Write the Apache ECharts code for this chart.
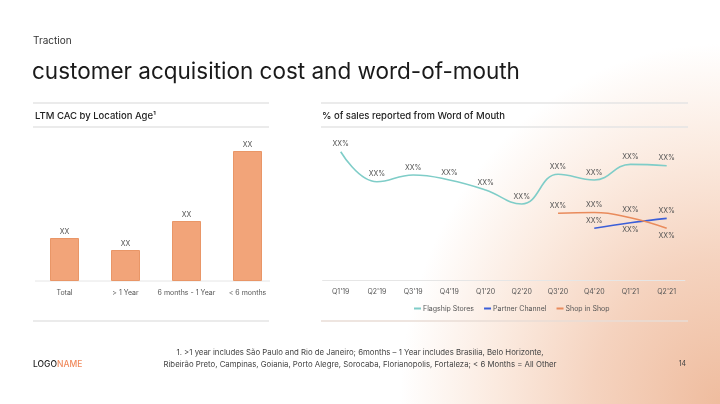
<!DOCTYPE html>
<html>
<head>
<meta charset="utf-8">
<script src="https://cdn.jsdelivr.net/npm/echarts@6/dist/echarts.min.js"></script>
<style>
html,body{margin:0;padding:0;width:720px;height:404px;overflow:hidden;}
body{background: radial-gradient(ellipse 320px 360px at 100% 100%, #efbc9e 0%, #f5d3bf 40%, #fbeadf 70%, #ffffff 100%);}
#chart{width:720px;height:404px;}
</style>
</head>
<body>
<div id="chart"></div>
<script>
// ---- data ----
const barCategories = ['Total', '> 1 Year', '6 months - 1 Year', '< 6 months'];
const barValues = [43, 31, 60, 130];
const barLabels = ['XX', 'XX', 'XX', 'XX'];

const quarters = ["Q1'19","Q2'19","Q3'19","Q4'19","Q1'20","Q2'20","Q3'20","Q4'20","Q1'21","Q2'21"];
const flagshipStores = [85.5, 65.5, 70, 66.7, 60, 50.7, 70.5, 66.7, 77.1, 76.2];
const partnerChannel = [null, null, null, null, null, null, null, 34.5, 38.2, 41.1];
const shopInShop     = [null, null, null, null, null, null, 44.5, 45, 41.5, 34.5];
const pointLabel = 'XX%';

// label placement (style): indices whose label sits below the point
const belowIdx = { partner: [8], shop: [9] };

const FONT = 'Inter, "Noto Sans", sans-serif';

function mkData(arr, below) {
  return arr.map((v, i) => v == null ? null : {
    value: v,
    label: { position: (below || []).indexOf(i) >= 0 ? 'bottom' : 'top' }
  });
}

const chart = echarts.init(document.getElementById('chart'), null, { renderer: 'canvas' });

const lineLabel = {
  show: true, formatter: pointLabel, color: '#555', fontSize: 7, fontFamily: FONT, distance: 4
};

function lineSeries(name, arr, below, color) {
  return {
    name, type: 'line', xAxisIndex: 1, yAxisIndex: 1, data: mkData(arr, below),
    smooth: 0.45, symbol: 'circle', symbolSize: 0.01, showSymbol: true,
    lineStyle: { color, width: 1.6 }, itemStyle: { color }, label: lineLabel
  };
}

const option = {
  backgroundColor: 'transparent',
  animation: false,
  graphic: [
    { type: 'text', x: 33, y: 41, style: { text: 'Traction', fill: '#333', font: '10px ' + FONT, verticalAlign: 'middle' } },
    { type: 'text', x: 32, y: 72, style: { text: 'customer acquisition cost and word-of-mouth', fill: '#1a1a1a', font: '22.5px ' + FONT, verticalAlign: 'middle' } },
    { type: 'line', shape: { x1: 33, y1: 103, x2: 269, y2: 103 }, style: { stroke: '#e4e4e4', lineWidth: 1.5 } },
    { type: 'line', shape: { x1: 33, y1: 127, x2: 269, y2: 127 }, style: { stroke: '#e4e4e4', lineWidth: 1.5 } },
    { type: 'line', shape: { x1: 321, y1: 103, x2: 688, y2: 103 }, style: { stroke: '#e4e4e4', lineWidth: 1.5 } },
    { type: 'line', shape: { x1: 321, y1: 127, x2: 688, y2: 127 }, style: { stroke: '#e4e4e4', lineWidth: 1.5 } },
    { type: 'line', shape: { x1: 33, y1: 321, x2: 269, y2: 321 }, style: { stroke: '#e4e4e4', lineWidth: 1.5 } },
    { type: 'line', shape: { x1: 321, y1: 321, x2: 688, y2: 321 }, style: { stroke: '#e8ddd6', lineWidth: 1.5 } },
    { type: 'text', x: 35, y: 116, style: { text: 'LTM CAC by Location Age¹', fill: '#222', font: '500 9.5px ' + FONT, verticalAlign: 'middle' } },
    { type: 'text', x: 322, y: 116, style: { text: '% of sales reported from Word of Mouth', fill: '#222', font: '500 9.5px ' + FONT, verticalAlign: 'middle' } },
    { type: 'line', shape: { x1: 35, y1: 281, x2: 270, y2: 281 }, style: { stroke: '#e6e6e6', lineWidth: 1 } },
    { type: 'text', x: 360, y: 353, style: { text: '1. >1 year includes São Paulo and Rio de Janeiro; 6months – 1 Year includes Brasilia, Belo Horizonte,', fill: '#444', font: '7.8px ' + FONT, align: 'center', verticalAlign: 'middle' } },
    { type: 'text', x: 360, y: 365, style: { text: 'Ribeirão Preto, Campinas, Goiania, Porto Alegre, Sorocaba, Florianopolis, Fortaleza; < 6 Months = All Other', fill: '#444', font: '7.8px ' + FONT, align: 'center', verticalAlign: 'middle' } },
    { type: 'text', x: 33, y: 364, style: { text: '{a|LOGO}{b|NAME}', verticalAlign: 'middle',
        rich: { a: { fill: '#222', font: '500 8.5px ' + FONT }, b: { fill: '#f08a5d', font: '500 8.5px ' + FONT } } } },
    { type: 'text', x: 686, y: 364, style: { text: '14', fill: '#444', font: '7px ' + FONT, align: 'right', verticalAlign: 'middle' } }
  ],
  grid: [
    { left: 34, width: 244, top: 131, bottom: 123 },
    { left: 322.6, width: 362.2, top: 130, bottom: 124 }
  ],
  xAxis: [
    { type: 'category', gridIndex: 0, data: barCategories,
      axisLine: { show: false }, axisTick: { show: false },
      axisLabel: { color: '#555', fontSize: 7, fontFamily: FONT, margin: 8, interval: 0 } },
    { type: 'category', gridIndex: 1, data: quarters,
      axisLine: { lineStyle: { color: '#e6e6e6' } }, axisTick: { show: false },
      axisLabel: { color: '#555', fontSize: 7, fontFamily: FONT, margin: 8, interval: 0 } }
  ],
  yAxis: [
    { type: 'value', gridIndex: 0, min: 0, max: 150, show: false },
    { type: 'value', gridIndex: 1, min: 0, max: 100, show: false }
  ],
  legend: {
    left: 409, top: 300, itemWidth: 7, itemHeight: 2, itemGap: 10,
    textStyle: { color: '#555', fontSize: 7, fontFamily: FONT, padding: [0, 0, 0, -3] },
    data: [
      { name: 'Flagship Stores', icon: 'rect' },
      { name: 'Partner Channel', icon: 'rect' },
      { name: 'Shop in Shop', icon: 'rect' }
    ]
  },
  series: [
    { type: 'bar', xAxisIndex: 0, yAxisIndex: 0, data: barValues, barWidth: 29,
      itemStyle: { color: '#f2a479', borderColor: '#e99667', borderWidth: 1 },
      label: { show: true, position: 'top', distance: 3, color: '#555', fontSize: 7, fontFamily: FONT,
        formatter: p => barLabels[p.dataIndex] } },
    lineSeries('Flagship Stores', flagshipStores, [], '#7fcdc8'),
    lineSeries('Partner Channel', partnerChannel, belowIdx.partner, '#3c5fd8'),
    lineSeries('Shop in Shop', shopInShop, belowIdx.shop, '#e98b5c')
  ]
};
chart.setOption(option);
</script>
</body>
</html>
